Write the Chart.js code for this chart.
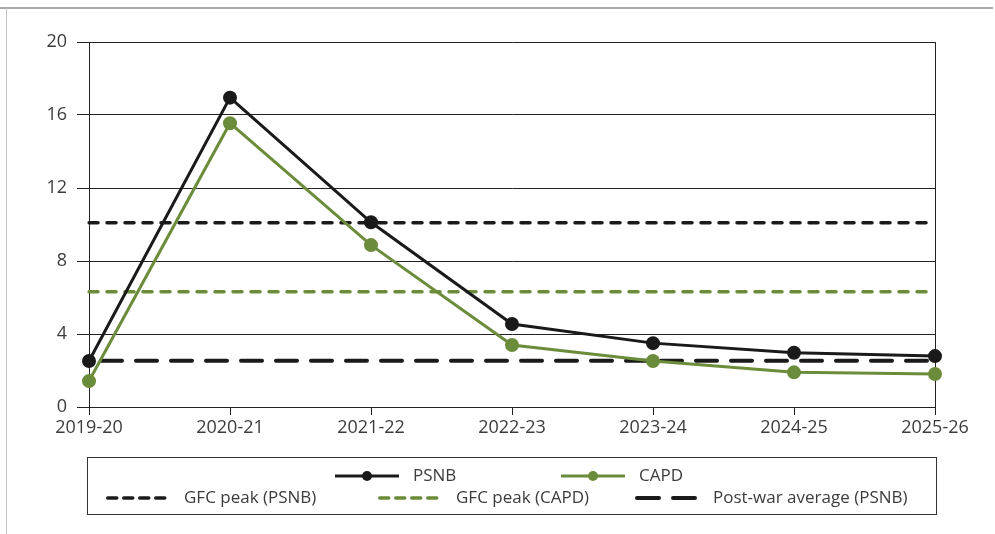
<!DOCTYPE html>
<html>
<head>
<meta charset="utf-8">
<script src="https://cdn.jsdelivr.net/npm/chart.js@4"></script>
<style>
  html, body { margin: 0; padding: 0; background: #ffffff; }
  canvas { display: block; }
</style>
</head>
<body>
<canvas id="c" width="995" height="534"></canvas>
<script>
// ---- data ----
const categories = ['2019-20', '2020-21', '2021-22', '2022-23', '2023-24', '2024-25', '2025-26'];
const psnb = [2.52, 16.95, 10.12, 4.55, 3.5, 2.97, 2.79];
const capd = [1.42, 15.55, 8.87, 3.4, 2.52, 1.9, 1.81];
const gfcPeakPsnb = [10.1, 10.1, 10.1, 10.1, 10.1, 10.1, 10.1];
const gfcPeakCapd = [6.32, 6.32, 6.32, 6.32, 6.32, 6.32, 6.32];
const postWarAveragePsnb = [2.54, 2.54, 2.54, 2.54, 2.54, 2.54, 2.54];
const yTicks = [0, 4, 8, 12, 16, 20];
const seriesLabels = ['PSNB', 'CAPD', 'GFC peak (PSNB)', 'GFC peak (CAPD)', 'Post-war average (PSNB)'];

const BLACK = '#1a1a1a';
const GREEN = '#6b8c3a';
const TEXT = '#3c3c3c';

const framePlugin = {
  id: 'frame',
  beforeDraw(chart) {
    const ctx = chart.ctx;
    ctx.save();
    ctx.fillStyle = '#ffffff';
    ctx.fillRect(0, 0, chart.width, chart.height);
    ctx.strokeStyle = '#a8a8a8';
    ctx.lineWidth = 2;
    ctx.beginPath();
    ctx.moveTo(0, 8); ctx.lineTo(993, 8);
    ctx.stroke();
    ctx.strokeStyle = '#c4c4c4';
    ctx.lineWidth = 1;
    ctx.beginPath();
    ctx.moveTo(6.5, 8); ctx.lineTo(6.5, chart.height);
    ctx.stroke();
    ctx.restore();
  }
};

const legendPlugin = {
  id: 'boxLegend',
  afterDraw(chart) {
    const ctx = chart.ctx;
    const ds = chart.data.datasets;
    ctx.save();
    ctx.strokeStyle = '#333333';
    ctx.lineWidth = 1;
    ctx.strokeRect(87.5, 457.5, 849, 57);
    const rows = [
      { y: 476, items: [[0, 335], [1, 561]] },
      { y: 498, items: [[2, 106], [3, 378], [4, 635]] }
    ];
    const sampleLen = 64;
    ctx.font = '17px "Open Sans"';
    ctx.textBaseline = 'middle';
    rows.forEach(row => {
      row.items.forEach(([i, x]) => {
        const d = ds[i];
        ctx.save();
        ctx.strokeStyle = d.borderColor;
        ctx.lineWidth = d.legendLineWidth || d.borderWidth;
        ctx.lineCap = d.borderCapStyle || 'butt';
        ctx.setLineDash(d.legendDash || d.borderDash || []);
        ctx.beginPath();
        const off = (d.borderCapStyle === 'round') ? ctx.lineWidth / 2 : 0;
        ctx.moveTo(x + off, row.y);
        ctx.lineTo(x + sampleLen - off, row.y);
        ctx.stroke();
        if (d.pointRadius > 0) {
          ctx.setLineDash([]);
          ctx.fillStyle = d.pointBackgroundColor;
          ctx.beginPath();
          ctx.arc(x + sampleLen / 2, row.y, 5, 0, Math.PI * 2);
          ctx.fill();
        }
        ctx.restore();
        ctx.fillStyle = TEXT;
        ctx.fillText(d.label, x + sampleLen + 14, row.y);
      });
    });
    ctx.restore();
  }
};

new Chart(document.getElementById('c'), {
  type: 'line',
  data: {
    labels: categories,
    datasets: [
      { label: seriesLabels[0], data: psnb, borderColor: BLACK, backgroundColor: BLACK,
        pointBackgroundColor: BLACK, pointBorderColor: BLACK, borderWidth: 3, pointRadius: 5.5, tension: 0 },
      { label: seriesLabels[1], data: capd, borderColor: GREEN, backgroundColor: GREEN,
        pointBackgroundColor: GREEN, pointBorderColor: GREEN, borderWidth: 3, pointRadius: 5.5, tension: 0 },
      { label: seriesLabels[2], data: gfcPeakPsnb, borderColor: BLACK, borderWidth: 3.5,
        borderDash: [9, 9], borderCapStyle: 'round', legendDash: [9, 7], pointRadius: 0 },
      { label: seriesLabels[3], data: gfcPeakCapd, borderColor: GREEN, borderWidth: 3.5,
        borderDash: [9, 9], borderCapStyle: 'round', legendDash: [9, 7], pointRadius: 0 },
      { label: seriesLabels[4], data: postWarAveragePsnb, borderColor: BLACK, borderWidth: 4,
        borderDash: [21, 14], borderDashOffset: -12, borderCapStyle: 'round', legendDash: [22, 14], pointRadius: 0 }
    ]
  },
  options: {
    responsive: false,
    animation: false,
    devicePixelRatio: 1,
    layout: { padding: { left: 0, right: 60, top: 42, bottom: 0 } },
    plugins: { legend: { display: false }, tooltip: { enabled: false } },
    elements: { point: { borderWidth: 0, hoverRadius: 5.5 } },
    scales: {
      x: {
        offset: false,
        afterFit(s) { s.height = 127; },
        border: { display: true, color: '#222', width: 1 },
        grid: {
          drawOnChartArea: true,
          color: ctx => (ctx.index === categories.length - 1 ? '#222' : 'rgba(0,0,0,0)'),
          tickColor: '#222',
          tickLength: 8,
          lineWidth: 1
        },
        ticks: { color: TEXT, font: { family: 'Open Sans', size: 18 }, padding: 2, maxRotation: 0, autoSkip: false }
      },
      y: {
        min: 0, max: 20,
        afterFit(s) { s.width = 89; },
        afterBuildTicks(s) { s.ticks = yTicks.map(v => ({ value: v })); },
        border: { display: true, color: '#222', width: 1 },
        grid: { color: '#222', tickColor: '#222', tickLength: 12, lineWidth: 1 },
        ticks: { color: TEXT, font: { family: 'Open Sans', size: 18 }, padding: 10 }
      }
    }
  },
  plugins: [framePlugin, legendPlugin]
});
</script>
</body>
</html>
